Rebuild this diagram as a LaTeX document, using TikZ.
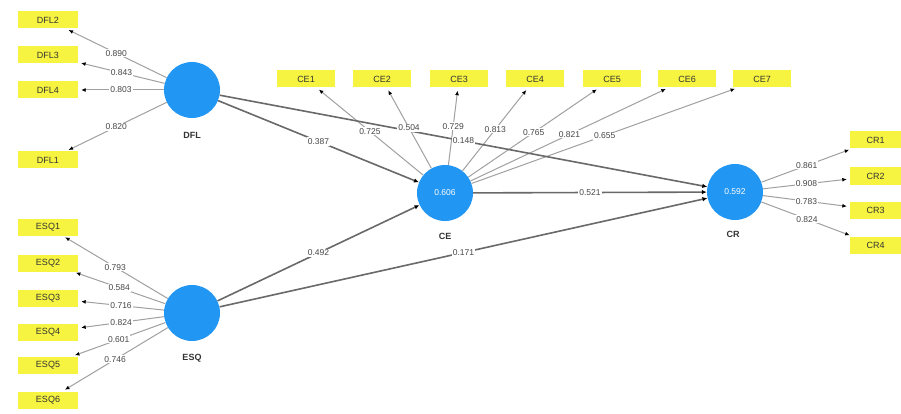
\documentclass[tikz,border=0pt]{standalone}
\usepackage{fontspec}
\setmainfont{Liberation Sans}
\usetikzlibrary{arrows.meta}
\definecolor{lvblue}{RGB}{33,150,243}
\definecolor{mvyellow}{RGB}{246,244,64}
\definecolor{outerline}{RGB}{160,160,160}
\definecolor{innerline}{RGB}{105,105,105}
\definecolor{labeltext}{RGB}{70,70,70}
\pgfdeclarelayer{lines}
\pgfsetlayers{lines,main}
% draw a weighted connector: line on the lower layer, weight label on top
\newcommand\pathwt[4]{%
  \begin{pgfonlayer}{lines}\draw[#1] (#2) -- (#3);\end{pgfonlayer}%
  \path (#2) -- (#3) node[wt] {#4};}
\begin{document}
\begin{tikzpicture}[x=1pt,y=-1pt,
  latent/.style={circle, fill=lvblue, minimum size=56pt, inner sep=0pt,
    text=white, font=\fontsize{8.5}{9}\selectfont},
  ind/.style={fill=mvyellow, minimum width=60pt, minimum height=17pt,
    inner sep=0pt, text=black!80, font=\fontsize{9}{10}\selectfont},
  indce/.style={ind, minimum width=58pt},
  indcr/.style={ind, minimum width=51pt},
  lvname/.style={text=black!80, font=\bfseries\fontsize{9}{10}\selectfont},
  outer/.style={draw=outerline, line width=1pt, shorten >=3pt,
    -{Latex[length=4.5pt,width=4pt,color=black]}},
  inner/.style={draw=innerline, line width=1.6pt,
    -{Latex[length=5pt,width=4.5pt,color=black]}},
  wt/.style={pos=0.5, fill=white, inner sep=1pt, text=labeltext,
    font=\fontsize{8.5}{9}\selectfont}
]
\useasboundingbox (0,0) rectangle (901,414);

% latent variables
\node[latent] (DFL) at (192,90) {};
\node[latent] (ESQ) at (192,313) {};
\node[latent] (CE) at (445,193) {0.606};
\node[latent] (CR) at (735,192) {0.592};
\node[lvname] (DFLname) at (192,135) {DFL};
\node[lvname] (ESQname) at (192,358) {ESQ};
\node[lvname] (CEname) at (445,236) {CE};
\node[lvname] (CRname) at (733,234) {CR};

% indicators of DFL
\node[ind] (DFL2) at (48,20) {DFL2};
\node[ind] (DFL3) at (48,55) {DFL3};
\node[ind] (DFL4) at (48,90) {DFL4};
\node[ind] (DFL1) at (48,160) {DFL1};

% indicators of ESQ
\node[ind] (ESQ1) at (48,227) {ESQ1};
\node[ind] (ESQ2) at (48,263) {ESQ2};
\node[ind] (ESQ3) at (48,298) {ESQ3};
\node[ind] (ESQ4) at (48,332) {ESQ4};
\node[ind] (ESQ5) at (48,365) {ESQ5};
\node[ind] (ESQ6) at (48,400) {ESQ6};

% indicators of CE
\node[indce] (CE1) at (306,79) {CE1};
\node[indce] (CE2) at (382,79) {CE2};
\node[indce] (CE3) at (459,79) {CE3};
\node[indce] (CE4) at (535,79) {CE4};
\node[indce] (CE5) at (612,79) {CE5};
\node[indce] (CE6) at (687,79) {CE6};
\node[indce] (CE7) at (762,79) {CE7};

% indicators of CR
\node[indcr] (CR1) at (875.5,140) {CR1};
\node[indcr] (CR2) at (875.5,176) {CR2};
\node[indcr] (CR3) at (875.5,210) {CR3};
\node[indcr] (CR4) at (875.5,245) {CR4};

% outer loadings
\pathwt{outer}{DFL}{DFL2}{0.890}
\pathwt{outer}{DFL}{DFL3}{0.843}
\pathwt{outer}{DFL}{DFL4}{0.803}
\pathwt{outer}{DFL}{DFL1}{0.820}

\pathwt{outer}{ESQ}{ESQ1}{0.793}
\pathwt{outer}{ESQ}{ESQ2}{0.584}
\pathwt{outer}{ESQ}{ESQ3}{0.716}
\pathwt{outer}{ESQ}{ESQ4}{0.824}
\pathwt{outer}{ESQ}{ESQ5}{0.601}
\pathwt{outer}{ESQ}{ESQ6}{0.746}

\pathwt{outer}{CE}{CE1}{0.725}
\pathwt{outer}{CE}{CE2}{0.504}
\pathwt{outer}{CE}{CE3}{0.729}
\pathwt{outer}{CE}{CE4}{0.813}
\pathwt{outer}{CE}{CE5}{0.765}
\pathwt{outer}{CE}{CE6}{0.821}
\pathwt{outer}{CE}{CE7}{0.655}

\pathwt{outer}{CR}{CR1}{0.861}
\pathwt{outer}{CR}{CR2}{0.908}
\pathwt{outer}{CR}{CR3}{0.783}
\pathwt{outer}{CR}{CR4}{0.824}

% path coefficients
\pathwt{inner}{DFL}{CE}{0.387}
\pathwt{inner}{DFL}{CR}{0.148}
\pathwt{inner}{ESQ}{CE}{0.492}
\pathwt{inner}{ESQ}{CR}{0.171}
\pathwt{inner}{CE}{CR}{0.521}
\end{tikzpicture}
\end{document}
